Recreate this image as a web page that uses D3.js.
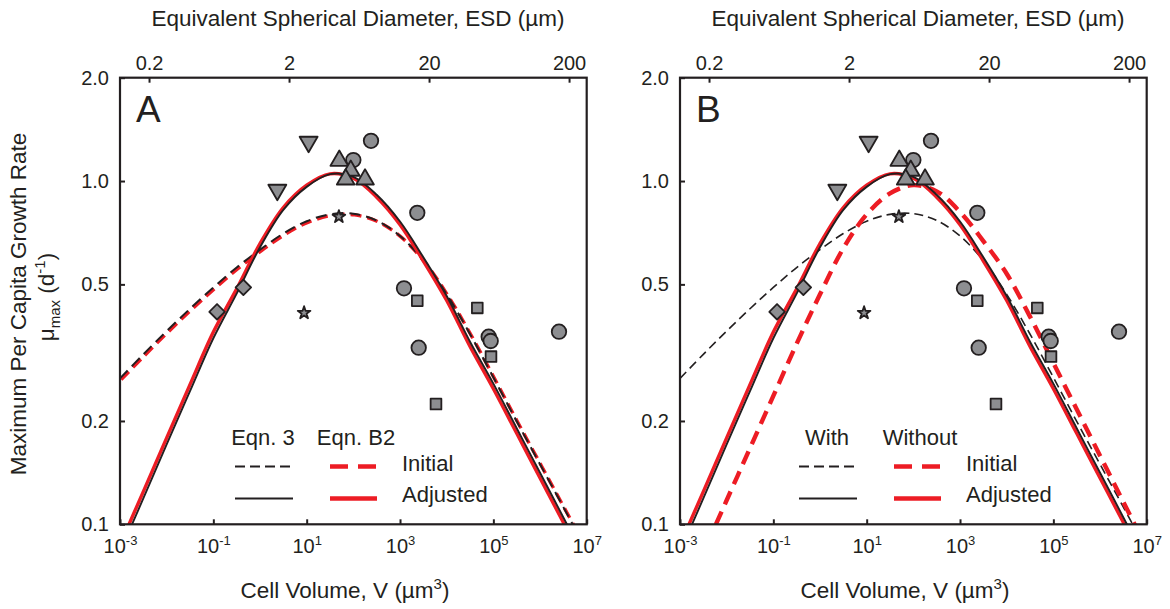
<!DOCTYPE html>
<html>
<head>
<meta charset="utf-8">
<script src="https://cdn.jsdelivr.net/npm/d3@7"></script>
<style>
  body { margin: 0; background: #fff; }
  svg text { font-family: Arial, "Liberation Sans", sans-serif; fill: #231f20; }
</style>
</head>
<body>
<svg id="chart" width="1170" height="609"></svg>
<script>
//
// D A T A
//
// cell volume grid used for the model curves (um^3)
var volGrid = [0.001, 0.00316, 0.01, 0.0316, 0.1, 0.316, 1, 3.16, 10, 31.6, 100,
               316, 1000, 3162, 10000, 31623, 100000, 316228, 1000000, 3162278, 10000000];

// model curves (d-1)
var adjustedEqn3  = [0.0832, 0.1189, 0.1710, 0.2443, 0.3483, 0.4700, 0.6412, 0.8241, 0.9616, 1.0471, 1.0280,
                     0.9120, 0.7621, 0.5998, 0.4624, 0.3404, 0.2570, 0.1905, 0.1413, 0.1047, 0.0776];
var adjustedEqnB2 = [0.0871, 0.1245, 0.1786, 0.2553, 0.3631, 0.4850, 0.6577, 0.8375, 0.9727, 1.0495, 1.0186,
                     0.8974, 0.7464, 0.5848, 0.4487, 0.3296, 0.2483, 0.1841, 0.1365, 0.1012, 0.0750];
var initialEqn3   = [0.2661, 0.3126, 0.3656, 0.4246, 0.4898, 0.5598, 0.6310, 0.7031, 0.7638, 0.7998, 0.8035,
                     0.7674, 0.6918, 0.5861, 0.4677, 0.3581, 0.2679, 0.1995, 0.1496, 0.1122, 0.0841];
var initialWithout = [0.0583, 0.0828, 0.1175, 0.1667, 0.2366, 0.3357, 0.4677, 0.6368, 0.7998, 0.9204, 0.9727,
                      0.9333, 0.8128, 0.6683, 0.5370, 0.4027, 0.2951, 0.2163, 0.1585, 0.1161, 0.0851];

// observations [volume, growth rate]
var obsDiamond  = [[0.12, 0.416], [0.44, 0.49]];
var obsStar     = [[8.8, 0.413], [49, 0.787]];
var obsTriDown  = [[2.35, 0.942], [11, 1.30]];
var obsTriUp    = [[50, 1.146], [88, 1.072], [68.5, 1.011], [178, 1.011]];
var obsCircle   = [[100, 1.151], [239, 1.31], [2344, 0.808], [1216, 0.487], [2512, 0.327],
                   [79400, 0.352], [87700, 0.342], [2550000, 0.364]];
var obsSquare   = [[2344, 0.448], [45300, 0.427], [89000, 0.308], [5900, 0.224]];

// ticks
var volTicks = [1e-3, 1e-1, 1e1, 1e3, 1e5, 1e7];
var muTicks  = [0.1, 0.2, 0.5, 1.0, 2.0];
var esdTicks = [0.2, 2, 20, 200];

//
// L A Y O U T
//
var svg    = d3.select('#chart'),
    yTop   = 77.7,
    yBot   = 524.3,
    pw     = 466.7,
    panels = [{id: 'A', left: 120, legend: ['Eqn. 3', 'Eqn. B2'], lx: 226},
              {id: 'B', left: 680, legend: ['With', 'Without'], lx: 790}];

var RED = '#ed1c24', INK = '#231f20', GREY = '#8d8e91';

var y = d3.scaleLog().domain([0.1, 2]).range([yBot, yTop]);
var esd = function(v){ return Math.pow(6 * v / Math.PI, 1 / 3); };

// y title, shared
svg.append('text').attr('transform', 'translate(26,304) rotate(-90)')
  .attr('text-anchor', 'middle').attr('font-size', 22.5).text('Maximum Per Capita Growth Rate');
var yt2 = svg.append('text').attr('transform', 'translate(54,297) rotate(-90)')
  .attr('text-anchor', 'middle').attr('font-size', 22.5);
yt2.append('tspan').text('\u03bc');
yt2.append('tspan').attr('font-size', 15).attr('dy', 6).text('max');
yt2.append('tspan').attr('dy', -6).text(' (d');
yt2.append('tspan').attr('font-size', 15).attr('dy', -9).text('-1');
yt2.append('tspan').attr('dy', 9).text(')');

panels.forEach(function(p){
  var x  = d3.scaleLog().domain([1e-3, 1e7]).range([p.left, p.left + pw]);
  var xe = d3.scaleLog().domain([esd(1e-3), esd(1e7)]).range([p.left, p.left + pw]);
  var g  = svg.append('g');

  // clip
  svg.append('clipPath').attr('id', 'clip' + p.id)
    .append('rect').attr('x', p.left).attr('y', yTop).attr('width', pw).attr('height', yBot - yTop);

  // axes
  var ax = g.append('g').attr('transform', 'translate(0,' + yBot + ')')
    .call(d3.axisBottom(x).tickValues(volTicks).tickSize(-5).tickPadding(15).tickFormat(''));
  ax.selectAll('.tick text').each(function(d){
    var t = d3.select(this).attr('font-size', 20);
    t.append('tspan').text('10');
    t.append('tspan').attr('font-size', 13).attr('dy', '-0.65em').text(Math.round(Math.log10(d)));
  });

  g.append('g').attr('transform', 'translate(' + p.left + ',0)')
    .call(d3.axisLeft(y).tickValues(muTicks).tickSize(-5).tickPadding(11).tickFormat(d3.format('.1f')))
    .selectAll('.tick text').attr('font-size', 20);

  g.append('g').attr('transform', 'translate(0,' + yTop + ')')
    .call(d3.axisTop(xe).tickValues(esdTicks).tickSize(-5).tickPadding(8).tickFormat(function(d){ return d; }))
    .selectAll('.tick text').attr('font-size', 20);

  g.selectAll('.domain').remove();
  g.selectAll('.tick line').attr('stroke', INK).attr('stroke-width', 2);
  g.selectAll('.tick text').attr('fill', INK).style('font-family', 'Arial, "Liberation Sans", sans-serif');

  // axis titles
  g.append('text').attr('x', p.left + 238).attr('y', 26).attr('text-anchor', 'middle')
    .attr('font-size', 22.5).text('Equivalent Spherical Diameter, ESD (\u00b5m)');
  var xt = g.append('text').attr('x', p.left + 225).attr('y', 598).attr('text-anchor', 'middle')
    .attr('font-size', 22.5);
  xt.append('tspan').text('Cell Volume, V (\u00b5m');
  xt.append('tspan').attr('font-size', 15).attr('dy', -9).text('3');
  xt.append('tspan').attr('dy', 9).text(')');

  g.append('text').attr('x', p.left + 16).attr('y', 122).attr('font-size', 37).text(p.id);

  // curves
  var line = d3.line()
    .x(function(d){ return x(d[0]); })
    .y(function(d){ return y(d[1]); })
    .curve(d3.curveCatmullRom.alpha(0.5));
  var pts = function(arr){ return volGrid.map(function(v, i){ return [v, arr[i]]; }); };
  var cg = g.append('g').attr('clip-path', 'url(#clip' + p.id + ')').attr('fill', 'none');

  if (p.id === 'A') {
    // red copy peeks out below the black dashes
    cg.append('path').attr('d', line(pts(initialEqn3))).attr('stroke', RED)
      .attr('transform', 'translate(1.2,1.2)')
      .attr('stroke-width', 3.4).attr('stroke-dasharray', '11,6');
    cg.append('path').attr('d', line(pts(initialEqn3))).attr('stroke', INK)
      .attr('stroke-width', 2).attr('stroke-dasharray', '11,6');
  } else {
    cg.append('path').attr('d', line(pts(initialEqn3))).attr('stroke', INK)
      .attr('stroke-width', 1.6).attr('stroke-dasharray', '9,5');
    cg.append('path').attr('d', line(pts(initialWithout))).attr('stroke', RED)
      .attr('stroke-width', 4.4).attr('stroke-dasharray', '14,8');
  }
  cg.append('path').attr('d', line(pts(adjustedEqnB2))).attr('stroke', RED).attr('stroke-width', 3.4);
  cg.append('path').attr('d', line(pts(adjustedEqn3))).attr('stroke', INK).attr('stroke-width', 1.9);

  // markers
  var mg = g.append('g').attr('fill', GREY).attr('stroke', INK).attr('stroke-width', 1.8);
  var sym = function(data, type, size, rot){
    mg.selectAll(null).data(data).enter().append('path')
      .attr('d', d3.symbol().type(type).size(size))
      .attr('stroke-linejoin', 'round')
      .attr('transform', function(d){
        return 'translate(' + x(d[0]) + ',' + y(d[1]) + ')' + (rot ? ' rotate(' + rot + ')' : '');
      });
  };
  sym(obsSquare, d3.symbolSquare, 115);
  sym(obsCircle, d3.symbolCircle, 165);
  sym(obsDiamond, d3.symbolSquare, 120, 45);
  sym(obsTriDown, d3.symbolTriangle, 140, 180);
  sym(obsTriUp, d3.symbolTriangle, 135);
  sym(obsStar, d3.symbolStar, 50);

  // frame
  g.append('rect').attr('x', p.left).attr('y', yTop).attr('width', pw).attr('height', yBot - yTop)
    .attr('fill', 'none').attr('stroke', INK).attr('stroke-width', 2.2);

  // legend
  var lg = g.append('g').attr('font-size', 22);
  var lx = p.lx;
  lg.append('text').attr('x', lx + 37).attr('y', 445).attr('text-anchor', 'middle').text(p.legend[0]);
  lg.append('text').attr('x', lx + 130).attr('y', 445).attr('text-anchor', 'middle').text(p.legend[1]);
  lg.append('line').attr('x1', lx + 9).attr('x2', lx + 67).attr('y1', 466.5).attr('y2', 466.5)
    .attr('stroke', INK).attr('stroke-width', 1.8).attr('stroke-dasharray', '10,5');
  lg.append('line').attr('x1', lx + 9).attr('x2', lx + 67).attr('y1', 498.5).attr('y2', 498.5)
    .attr('stroke', INK).attr('stroke-width', 1.8);
  lg.append('line').attr('x1', lx + 104).attr('x2', lx + 151).attr('y1', 466.5).attr('y2', 466.5)
    .attr('stroke', RED).attr('stroke-width', 4.6).attr('stroke-dasharray', '18,10');
  lg.append('line').attr('x1', lx + 104).attr('x2', lx + 151).attr('y1', 498.5).attr('y2', 498.5)
    .attr('stroke', RED).attr('stroke-width', 4.6);
  lg.append('text').attr('x', lx + 176).attr('y', 471).text('Initial');
  lg.append('text').attr('x', lx + 176).attr('y', 502).text('Adjusted');
});
</script>
</body>
</html>
